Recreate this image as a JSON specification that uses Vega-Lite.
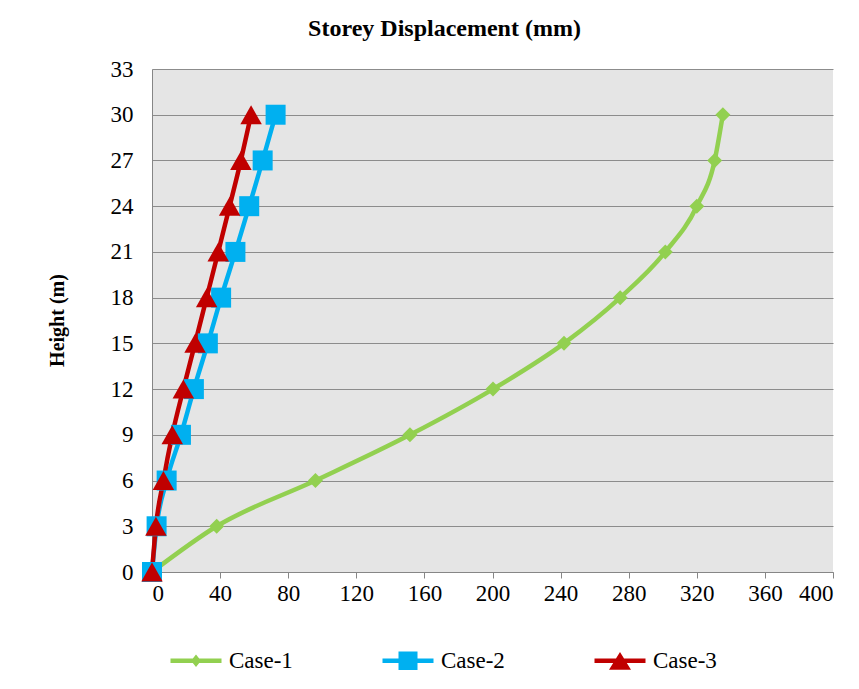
{
  "$schema": "https://vega.github.io/schema/vega-lite/v6.json",
  "autosize": "none",
  "width": 681,
  "height": 503,
  "padding": {"left": 152, "top": 69, "right": 26, "bottom": 117},
  "background": "white",
  "title": {
    "text": "Storey Displacement (mm)",
    "font": "Liberation Serif",
    "fontSize": 24,
    "fontWeight": "bold",
    "color": "black",
    "anchor": "middle",
    "dx": -48,
    "offset": 17
  },
  "data": {
    "values": [
      {"series": "Case-1", "height": 0, "disp": 0},
      {"series": "Case-1", "height": 3, "disp": 38},
      {"series": "Case-1", "height": 6, "disp": 96},
      {"series": "Case-1", "height": 9, "disp": 151.5},
      {"series": "Case-1", "height": 12, "disp": 200.3},
      {"series": "Case-1", "height": 15, "disp": 242},
      {"series": "Case-1", "height": 18, "disp": 275},
      {"series": "Case-1", "height": 21, "disp": 301.5},
      {"series": "Case-1", "height": 24, "disp": 320},
      {"series": "Case-1", "height": 27, "disp": 330.5},
      {"series": "Case-1", "height": 30, "disp": 335.3},
      {"series": "Case-2", "height": 0, "disp": 0},
      {"series": "Case-2", "height": 3, "disp": 2.7},
      {"series": "Case-2", "height": 6, "disp": 8.6},
      {"series": "Case-2", "height": 9, "disp": 17},
      {"series": "Case-2", "height": 12, "disp": 24.6},
      {"series": "Case-2", "height": 15, "disp": 32.8},
      {"series": "Case-2", "height": 18, "disp": 40.6},
      {"series": "Case-2", "height": 21, "disp": 49},
      {"series": "Case-2", "height": 24, "disp": 57.1},
      {"series": "Case-2", "height": 27, "disp": 65},
      {"series": "Case-2", "height": 30, "disp": 72.6},
      {"series": "Case-3", "height": 0, "disp": 0},
      {"series": "Case-3", "height": 3, "disp": 2.3},
      {"series": "Case-3", "height": 6, "disp": 6.7},
      {"series": "Case-3", "height": 9, "disp": 11.9},
      {"series": "Case-3", "height": 12, "disp": 18.4},
      {"series": "Case-3", "height": 15, "disp": 25.3},
      {"series": "Case-3", "height": 18, "disp": 32.1},
      {"series": "Case-3", "height": 21, "disp": 38.9},
      {"series": "Case-3", "height": 24, "disp": 45.6},
      {"series": "Case-3", "height": 27, "disp": 52.2},
      {"series": "Case-3", "height": 30, "disp": 58.2}
    ]
  },
  "encoding": {
    "x": {
      "field": "disp",
      "type": "quantitative",
      "scale": {"domain": [0, 400], "nice": false, "zero": false},
      "axis": {
        "title": null,
        "values": [0, 40, 80, 120, 160, 200, 240, 280, 320, 360, 400],
        "grid": false,
        "ticks": true,
        "tickSize": 6,
        "tickColor": "#868686",
        "domainColor": "#868686",
        "labelPadding": 4,
        "labelFont": "Liberation Serif"
      }
    },
    "y": {
      "field": "height",
      "type": "quantitative",
      "scale": {"domain": [0, 33], "nice": false, "zero": false},
      "axis": {
        "title": "Height (m)",
        "titleFont": "Liberation Serif",
        "titleFontSize": 20,
        "titleFontWeight": "bold",
        "titleColor": "black",
        "titleX": -95,
        "titleY": 251,
        "titleBaseline": "middle",
        "titleAlign": "center",
        "values": [0, 3, 6, 9, 12, 15, 18, 21, 24, 27, 30, 33],
        "grid": true,
        "gridColor": "#8c8c8c",
        "ticks": false,
        "domainColor": "#868686",
        "labelPadding": 19,
        "labelFont": "Liberation Serif"
      }
    }
  },
  "layer": [
    {
      "mark": {"type": "line", "strokeWidth": 4.5, "interpolate": "monotone"},
      "encoding": {
        "color": {
          "field": "series",
          "type": "nominal",
          "scale": {"domain": ["Case-1", "Case-2", "Case-3"], "range": ["#92D050", "#00B0F0", "#C00000"]},
          "legend": null
        },
        "order": {"field": "height", "type": "quantitative"}
      }
    },
    {
      "mark": {"type": "point", "filled": true, "size": 100, "opacity": 1, "strokeWidth": 0},
      "encoding": {
        "color": {
          "field": "series",
          "type": "nominal",
          "scale": {"domain": ["Case-1", "Case-2", "Case-3"], "range": ["#92D050", "#00B0F0", "#C00000"]},
          "legend": null
        },
        "shape": {
          "field": "series",
          "type": "nominal",
          "scale": {
            "domain": ["Case-1", "Case-2", "Case-3"],
            "range": [
              "M0,-1.5L1.5,0L0,1.5L-1.5,0Z",
              "M-2,-2L2,-2L2,2L-2,2Z",
              "M0,-1.9L2.15,1.9L-2.15,1.9Z"
            ]
          },
          "legend": null
        }
      }
    },
    {
      "mark": {"type": "point", "filled": true, "opacity": 0, "strokeWidth": 0},
      "encoding": {
        "fill": {
          "field": "series",
          "type": "nominal",
          "scale": {"domain": ["Case-1", "Case-2", "Case-3"], "range": ["#92D050", "#00B0F0", "#C00000"]},
          "legend": {
            "title": null,
            "orient": "none",
            "legendX": 12,
            "legendY": 580,
            "direction": "horizontal",
            "columns": 3,
            "gridAlign": "all",
            "columnPadding": 83,
            "symbolSize": 100,
            "symbolOpacity": 1,
            "symbolStrokeWidth": 0,
            "labelOffset": 42,
            "labelFont": "Liberation Serif",
            "labelFontSize": 23,
            "labelColor": "black",
            "padding": 0
          }
        },
        "shape": {
          "field": "series",
          "type": "nominal",
          "scale": {
            "domain": ["Case-1", "Case-2", "Case-3"],
            "range": [
              "M-1,-0.45L9.2,-0.45L9.2,0.45L-1,0.45ZM4.1,-1.25L5.1,0L4.1,1.25L3.1,0Z",
              "M-1,-0.45L9.2,-0.45L9.2,0.45L-1,0.45ZM2.2,-1.85L6,-1.85L6,1.85L2.2,1.85Z",
              "M-1,-0.45L9.2,-0.45L9.2,0.45L-1,0.45ZM4.1,-1.75L6.3,1.8L1.9,1.8Z"
            ]
          },
          "legend": {
            "title": null,
            "orient": "none",
            "legendX": 12,
            "legendY": 580,
            "direction": "horizontal",
            "columns": 3,
            "gridAlign": "all",
            "columnPadding": 83,
            "symbolSize": 100,
            "symbolOpacity": 1,
            "symbolStrokeWidth": 0,
            "labelOffset": 42,
            "labelFont": "Liberation Serif",
            "labelFontSize": 23,
            "labelColor": "black",
            "padding": 0
          }
        }
      }
    }
  ],
  "resolve": {"scale": {"shape": "independent", "fill": "independent"}},
  "config": {
    "font": "Liberation Serif",
    "view": {"stroke": null, "fill": "#e5e5e5"},
    "axis": {
      "labelFont": "Liberation Serif",
      "labelFontSize": 23,
      "labelColor": "black"
    },
    "legend": {
      "labelFont": "Liberation Serif"
    }
  }
}
